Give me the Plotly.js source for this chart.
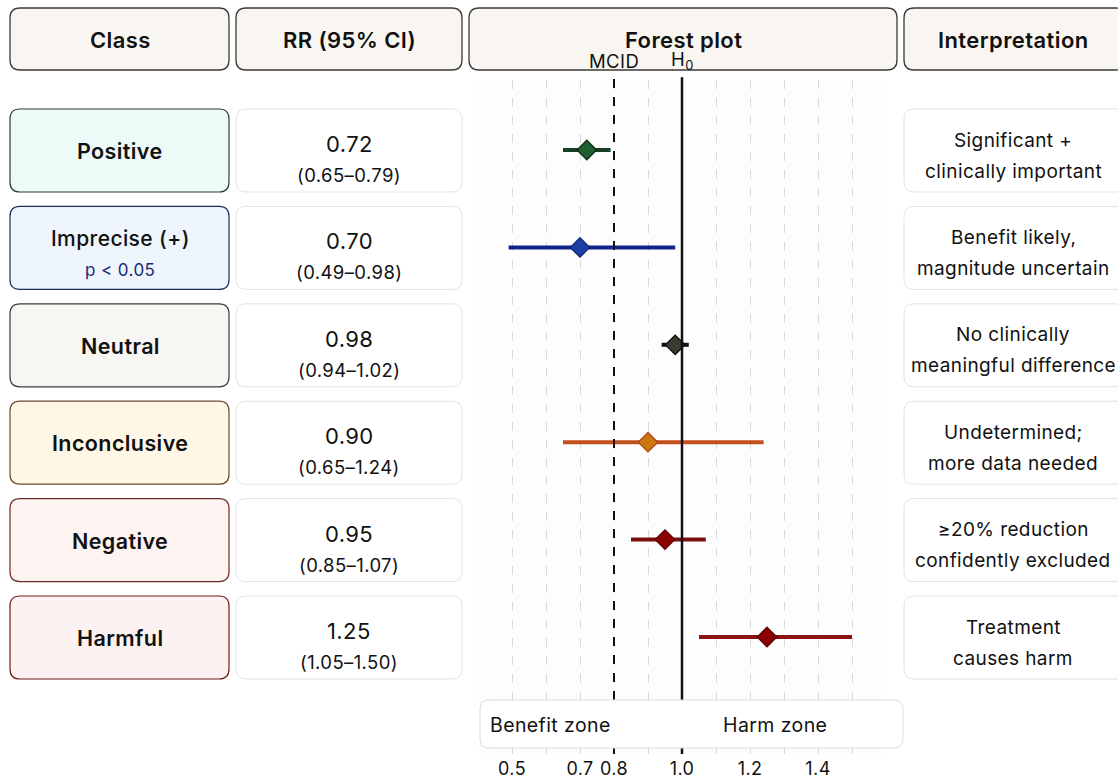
<!DOCTYPE html>
<html>
<head>
<meta charset="utf-8">
<script src="https://cdn.plot.ly/plotly-3.0.1.min.js"></script>
<style>html,body{margin:0;padding:0;background:#fff;}#chart{width:1118px;height:780px;} text{letter-spacing:0.4px;}</style>
</head>
<body>
<div id="chart"></div>
<script>
// ---- data ----
const headers = ['Class', 'RR (95% CI)', 'Forest plot', 'Interpretation'];
const classes = ['Positive', 'Imprecise (+)', 'Neutral', 'Inconclusive', 'Negative', 'Harmful'];
const classNotes = ['', 'p < 0.05', '', '', '', ''];
const rr = [0.72, 0.70, 0.98, 0.90, 0.95, 1.25];
const ciLow = [0.65, 0.49, 0.94, 0.65, 0.85, 1.05];
const ciHigh = [0.79, 0.98, 1.02, 1.24, 1.07, 1.50];
const interpLine1 = ['Significant +', 'Benefit likely,', 'No clinically', 'Undetermined;', '\u226520% reduction', 'Treatment'];
const interpLine2 = ['clinically important', 'magnitude uncertain', 'meaningful difference', 'more data needed', 'confidently excluded', 'causes harm'];
const tickVals = [0.5, 0.7, 0.8, 1.0, 1.2, 1.4];
const tickText = ['0.5', '0.7', '0.8', '1.0', '1.2', '1.4'];
const gridVals = [0.5, 0.6, 0.7, 0.8, 0.9, 1.0, 1.1, 1.2, 1.3, 1.4, 1.5];
const mcid = 0.8;
const h0 = 1.0;
const zoneLabels = ['Benefit zone', 'Harm zone'];

// ---- styles ----
const markerFill = ['#1f5f2e', '#1d3fa3', '#3b3b33', '#c9780f', '#8c0000', '#8c0000'];
const markerLine = ['#0c2c14', '#0e2878', '#111111', '#b3461a', '#5e0000', '#5e0000'];
const barColor = ['#173f26', '#10248a', '#111111', '#c4501f', '#7a0f0f', '#8a1414'];
const boxFill = ['#ecfbf7', '#eef5fc', '#f8f6f2', '#fef7e6', '#fdf4f2', '#fdf2f2'];
const boxLine = ['#2b3b36', '#1f2f5c', '#3a3a3a', '#6b4a2e', '#6b2a26', '#6b1f1f'];

const W = 1118, H = 780;
const FONT = 'Inter, "Noto Sans", "DejaVu Sans", sans-serif';
const px = x => x / W;
const py = y => 1 - y / H;

function roundRect(x0, y0, x1, y1, r, fill, line, lw, layer) {
  const rx = r / W, ry = r / H;
  const X0 = px(x0), X1 = px(x1), Y0 = py(y0), Y1 = py(y1);
  const p = `M${X0 + rx},${Y0} L${X1 - rx},${Y0} Q${X1},${Y0} ${X1},${Y0 - ry} ` +
    `L${X1},${Y1 + ry} Q${X1},${Y1} ${X1 - rx},${Y1} L${X0 + rx},${Y1} ` +
    `Q${X0},${Y1} ${X0},${Y1 + ry} L${X0},${Y0 - ry} Q${X0},${Y0} ${X0 + rx},${Y0} Z`;
  return {type: 'path', xref: 'paper', yref: 'paper', path: p,
    fillcolor: fill, line: {color: line, width: lw}, layer: layer || 'below'};
}

function ann(text, x, y, size, color, weight, opts) {
  return Object.assign({xref: 'paper', yref: 'paper', x: px(x), y: py(y), text: text,
    showarrow: false, xanchor: 'center', yanchor: 'middle',
    font: {family: FONT, size: size, color: color || '#111', weight: weight || 400}}, opts || {});
}

// ---- layout geometry (pixels) ----
const rowY0 = 150, rowStep = 97.4;
const plotBottom = 754;
const cols = [[10, 229], [236, 462], [469, 897], [904, 1126]];
const shapes = [];
const annotations = [];

cols.forEach((c) => {
  shapes.push(roundRect(c[0], 8, c[1], 70, 10, '#f9f6f1', '#3a3a3a', 1.3));
});
annotations.push(ann(headers[0], 120, 40, 22, '#111', 600));
annotations.push(ann(headers[1], 349, 40, 22, '#111', 600));
annotations.push(ann(headers[2], 683, 40, 22, '#111', 600));
annotations.push(ann(headers[3], 1013, 40, 22, '#111', 600));

classes.forEach((name, i) => {
  const c = rowY0 + rowStep * i;
  shapes.push(roundRect(cols[0][0], c - 41, cols[0][1], c + 42, 10, boxFill[i], boxLine[i], 1.2));
  shapes.push(roundRect(cols[1][0], c - 41, cols[1][1], c + 42, 10, '#ffffff', '#e3e3e3', 1));
  shapes.push(roundRect(cols[3][0], c - 41, cols[3][1], c + 42, 10, '#ffffff', '#e3e3e3', 1));
  if (classNotes[i]) {
    annotations.push(ann(name, 120, c - 9, 21, '#111', 500));
    annotations.push(ann(classNotes[i], 120, c + 23, 17, '#1a2a78', 400));
  } else {
    annotations.push(ann(name, 120, c + 1, 21.5, '#111', 600));
  }
  annotations.push(ann(rr[i].toFixed(2), 349, c - 6, 22, '#111', 400));
  annotations.push(ann('(' + ciLow[i].toFixed(2) + '\u2013' + ciHigh[i].toFixed(2) + ')', 349, c + 25, 18.5, '#111', 400));
  annotations.push(ann(interpLine1[i], 1013, c - 10, 19, '#111', 400));
  annotations.push(ann(interpLine2[i], 1013, c + 21, 19, '#111', 400));
});

// reference lines
shapes.push({type: 'line', xref: 'x', yref: 'y domain', x0: mcid, x1: mcid, y0: 0, y1: 1.004,
  line: {color: '#111', width: 2, dash: 'dash'}, layer: 'above'});
shapes.push({type: 'line', xref: 'x', yref: 'y domain', x0: h0, x1: h0, y0: 0, y1: 1.004,
  line: {color: '#111', width: 2.5}, layer: 'above'});
annotations.push(ann('MCID', 614, 61, 18.5, '#111', 400, {x: mcid, xref: 'x'}));
annotations.push(ann('H<sub>0</sub>', 683, 61, 18.5, '#111', 400, {x: h0, xref: 'x'}));

// zone box
shapes.push(roundRect(480, 700, 903, 748, 9, '#ffffff', '#dddddd', 1, 'above'));
annotations.push(ann(zoneLabels[0], 550, 725, 19.5, '#111', 400));
annotations.push(ann(zoneLabels[1], 775, 725, 19.5, '#111', 400));

// ---- traces ----
const traces = classes.map((name, i) => ({
  type: 'scatter', mode: 'markers', xaxis: 'x', yaxis: 'y',
  x: [rr[i]], y: [-i], name: name, showlegend: false, hoverinfo: 'skip',
  marker: {symbol: 'diamond', size: 15, color: markerFill[i], line: {color: markerLine[i], width: 1.3}},
  error_x: {type: 'data', symmetric: false, array: [ciHigh[i] - rr[i]], arrayminus: [rr[i] - ciLow[i]],
    thickness: 4, width: 0, color: barColor[i]}
}));
traces.unshift({type: 'scatter', mode: 'markers', xaxis: 'x2', yaxis: 'y',
  x: [0.4, 1.6], y: [null, null], showlegend: false, hoverinfo: 'skip'});

const xRange = [0.4, 1.6];
const xDomain = [478 / W, 886 / W];
const layout = {
  width: W, height: H,
  margin: {l: 0, r: 0, t: 0, b: 0},
  paper_bgcolor: '#ffffff',
  plot_bgcolor: '#fdfdfd',
  showlegend: false,
  xaxis: {domain: xDomain, range: xRange, tickmode: 'array', tickvals: tickVals, ticktext: tickText,
    showgrid: false, zeroline: false, showline: false, ticks: '', ticklabelstandoff: 2,
    tickfont: {family: FONT, size: 18, color: '#111'}, fixedrange: true},
  xaxis2: {domain: xDomain, range: xRange, overlaying: 'x', tickmode: 'array', tickvals: gridVals,
    showticklabels: false, showgrid: true, gridcolor: '#d9d9d9', gridwidth: 1, griddash: 'dash',
    zeroline: false, showline: false, ticks: '', fixedrange: true},
  yaxis: {domain: [(H - plotBottom) / H, 1 - 80 / H], range: [-(plotBottom - rowY0) / rowStep, (rowY0 - 80) / rowStep],
    showgrid: false, zeroline: false, showline: false, showticklabels: false, ticks: '', fixedrange: true},
  shapes: shapes,
  annotations: annotations
};

Plotly.newPlot('chart', traces, layout, {displayModeBar: false, staticPlot: true});
</script>
</body>
</html>
